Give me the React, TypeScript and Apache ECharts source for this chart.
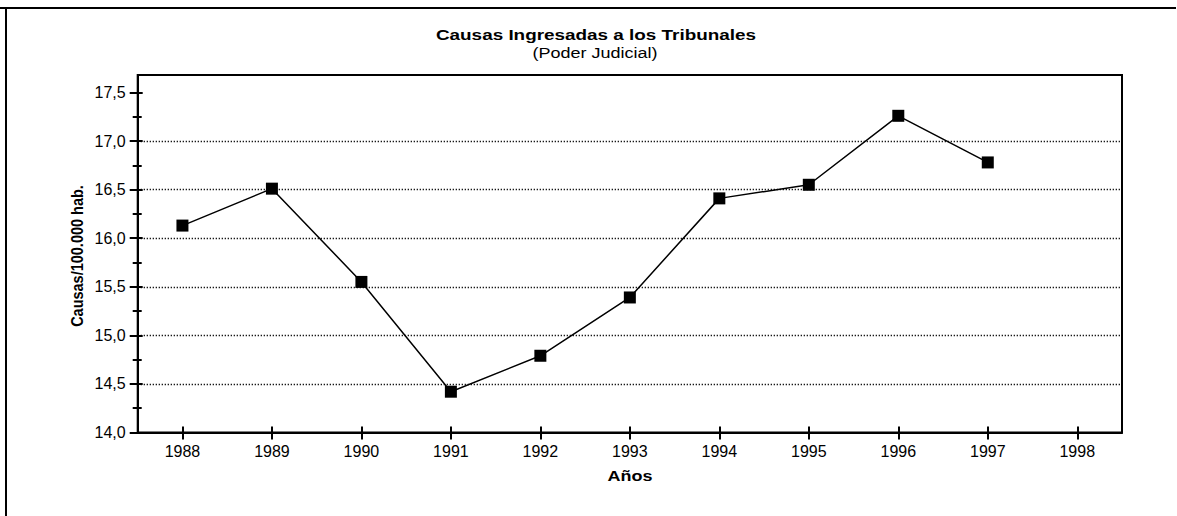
import React, { useEffect, useRef } from "react";
import * as echarts from "echarts";

const years = ["1988", "1989", "1990", "1991", "1992", "1993", "1994", "1995", "1996", "1997", "1998"];
const causas: (number | null)[] = [16.13, 16.51, 15.55, 14.42, 14.79, 15.39, 16.41, 16.55, 17.26, 16.78, null];
const yMajorTicks = [14.0, 14.5, 15.0, 15.5, 16.0, 16.5, 17.0, 17.5];
const yMinorTicks = [14.25, 14.75, 15.25, 15.75, 16.25, 16.75, 17.25];
const yGridLines = [14.5, 15.0, 15.5, 16.0, 16.5, 17.0];
const titleText = "Causas Ingresadas a los Tribunales";
const subtitleText = "(Poder Judicial)";
const yAxisName = "Causas/100.000 hab.";
const xAxisName = "Años";

const FONT = '"Liberation Sans", Arial, sans-serif';

export default function App() {
  const ref = useRef<HTMLDivElement>(null);
  useEffect(() => {
    if (!ref.current) return;
    const chart = echarts.init(ref.current, null, { renderer: "svg" });
    const yMin = 14;
    const yMax = 17.68;
    const baseY = {
      type: "value" as const,
      min: yMin,
      max: yMax,
      position: "left" as const,
      offset: 0,
      splitLine: { show: false },
    };
    chart.setOption({
      animation: false,
      grid: {
        left: 137.7,
        top: 75,
        right: 55,
        bottom: 83.5,
        show: true,
        borderColor: "#000",
        borderWidth: 2,
        containLabel: false,
      },
      xAxis: [
        {
          type: "category",
          data: years,
          boundaryGap: true,
          axisLine: { show: true, lineStyle: { color: "#000", width: 2 } },
          axisTick: { show: true, alignWithLabel: true, inside: false, length: 7, lineStyle: { color: "#000", width: 2 } },
          axisLabel: { color: "#000", fontSize: 16, fontFamily: FONT, margin: 11 },
          splitLine: { show: false },
        },
        {
          type: "category",
          data: years,
          boundaryGap: true,
          position: "bottom",
          axisLine: { show: false },
          axisTick: { show: true, alignWithLabel: true, inside: true, length: 6, lineStyle: { color: "#000", width: 2 } },
          axisLabel: { show: false },
          splitLine: { show: false },
        },
      ],
      yAxis: [
        {
          ...baseY,
          axisLine: { show: true, lineStyle: { color: "#000", width: 2 } },
          axisTick: { show: true, inside: false, length: 8, customValues: yMajorTicks, lineStyle: { color: "#000", width: 2 } },
          axisLabel: {
            color: "#000",
            fontSize: 16,
            fontFamily: FONT,
            margin: 12,
            customValues: yMajorTicks,
            formatter: (v: number) => v.toFixed(1).replace(".", ","),
          },
        },
        {
          ...baseY,
          axisLine: { show: false },
          axisTick: { show: true, inside: true, length: 5, customValues: yMajorTicks, lineStyle: { color: "#000", width: 2 } },
          axisLabel: { show: false },
        },
        {
          ...baseY,
          axisLine: { show: false },
          axisTick: { show: true, inside: false, length: 5, customValues: yMinorTicks, lineStyle: { color: "#000", width: 2 } },
          axisLabel: { show: false },
        },
        {
          ...baseY,
          axisLine: { show: false },
          axisTick: { show: true, inside: true, length: 4, customValues: yMinorTicks, lineStyle: { color: "#000", width: 2 } },
          axisLabel: { show: false },
        },
      ],
      series: [
        {
          type: "line",
          data: causas,
          xAxisIndex: 0,
          yAxisIndex: 0,
          symbol: "rect",
          symbolSize: 12,
          itemStyle: { color: "#000" },
          lineStyle: { color: "#000", width: 1.5 },
          connectNulls: false,
          z: 5,
          markLine: {
            silent: true,
            symbol: ["none", "none"],
            label: { show: false },
            lineStyle: { color: "#000", width: 1.4, type: [1.2, 1.8] },
            emphasis: { disabled: true },
            data: yGridLines.map((v) => ({ yAxis: v })),
          },
        },
      ],
      graphic: [
        {
          type: "text",
          x: 596,
          y: 35.5,
          scaleX: 1.26,
          style: { text: titleText, fontFamily: FONT, fontWeight: "bold", fontSize: 15, fill: "#000", textAlign: "center", textVerticalAlign: "middle" },
        },
        {
          type: "text",
          x: 595,
          y: 53,
          scaleX: 1.2,
          style: { text: subtitleText, fontFamily: FONT, fontSize: 15, fill: "#000", textAlign: "center", textVerticalAlign: "middle" },
        },
        {
          type: "text",
          x: 77,
          y: 256,
          rotation: Math.PI / 2,
          scaleX: 1.0,
          scaleY: 1.15,
          style: { text: yAxisName, fontFamily: FONT, fontWeight: "bold", fontSize: 14.5, fill: "#000", textAlign: "center", textVerticalAlign: "middle" },
        },
        {
          type: "text",
          x: 630,
          y: 476,
          scaleX: 1.2,
          style: { text: xAxisName, fontFamily: FONT, fontWeight: "bold", fontSize: 15, fill: "#000", textAlign: "center", textVerticalAlign: "middle" },
        },
      ],
    });
    return () => chart.dispose();
  }, []);
  return (
    <div style={{ position: "fixed", left: 0, top: 0, width: 1177, height: 516, background: "#fff", overflow: "hidden" }}>
      <div style={{ position: "absolute", left: 0, top: 7, width: 1176, height: 2, background: "#000" }} />
      <div style={{ position: "absolute", left: 5, top: 7, width: 2, height: 509, background: "#000" }} />
      <div ref={ref} style={{ position: "absolute", left: 0, top: 0, width: 1177, height: 516 }} />
    </div>
  );
}
